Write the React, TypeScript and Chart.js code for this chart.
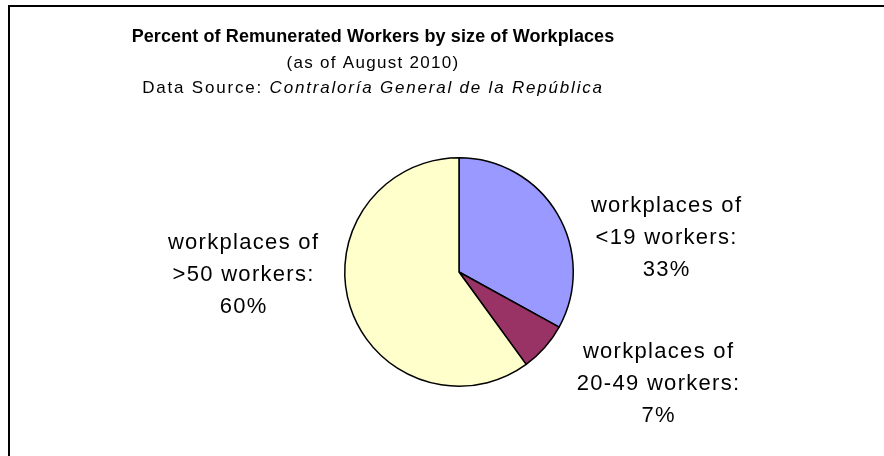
import React, { useEffect, useRef } from "react";
import { Chart, registerables } from "chart.js";

Chart.register(...registerables);

const categories = [
  "workplaces of <19 workers",
  "workplaces of 20-49 workers",
  "workplaces of >50 workers",
];
const labelLines = [
  ["workplaces of", "<19 workers:"],
  ["workplaces of", "20-49 workers:"],
  ["workplaces of", ">50 workers:"],
];
const values = [33, 7, 60];
const colors = ["#9999FF", "#993366", "#FFFFCC"];
const titleText = "Percent of Remunerated Workers by size of Workplaces";
const subtitleText = "(as of August 2010)";
const sourcePrefix = "Data Source: ";
const sourceName = "Contraloría General de la República";

const FONT = '"Liberation Sans", Arial, sans-serif';

const textPlugin = {
  id: "textPlugin",
  afterDraw(chart: any) {
    const ctx = chart.ctx as CanvasRenderingContext2D;
    ctx.save();
    ctx.fillStyle = "#000";
    ctx.textBaseline = "middle";
    ctx.textAlign = "left";
    const cx = 373;
    // title
    ctx.font = `bold 18px ${FONT}`;
    (ctx as any).letterSpacing = "0.1px";
    let w = ctx.measureText(titleText).width;
    ctx.fillText(titleText, cx - w / 2, 37);
    // subtitle
    ctx.font = `17px ${FONT}`;
    (ctx as any).letterSpacing = "1.3px";
    w = ctx.measureText(subtitleText).width;
    ctx.fillText(subtitleText, cx - w / 2, 63);
    // source
    (ctx as any).letterSpacing = "1.8px";
    ctx.font = `17px ${FONT}`;
    const w1 = ctx.measureText(sourcePrefix).width;
    ctx.font = `italic 17px ${FONT}`;
    const w2 = ctx.measureText(sourceName).width;
    const sx = cx - (w1 + w2) / 2;
    ctx.font = `17px ${FONT}`;
    ctx.fillText(sourcePrefix, sx, 88);
    ctx.font = `italic 17px ${FONT}`;
    ctx.fillText(sourceName, sx + w1, 88);

    // slice labels
    const meta = chart.getDatasetMeta(0);
    const arc0 = meta.data[0];
    const pcx = arc0.x;
    const pcy = arc0.y;
    const offsets = [
      [207, -34],
      [199, 112],
      [-216, 3],
    ];
    ctx.font = `22px ${FONT}`;
    (ctx as any).letterSpacing = "1.3px";
    ctx.textAlign = "center";
    const ds = chart.data.datasets[0].data as number[];
    const total = ds.reduce((a, b) => a + b, 0);
    meta.data.forEach((_el: any, i: number) => {
      const lines = [...labelLines[i], `${Math.round((ds[i] / total) * 100)}%`];
      const x = pcx + offsets[i][0];
      const y = pcy + offsets[i][1];
      lines.forEach((ln, j) => {
        ctx.fillText(ln, x + 0.6, y + (j - 1) * 32);
      });
    });
    ctx.restore();
  },
};

export default function App() {
  const ref = useRef<HTMLCanvasElement>(null);
  useEffect(() => {
    if (!ref.current) return;
    const chart = new Chart(ref.current, {
      type: "pie",
      data: {
        labels: categories,
        datasets: [
          {
            data: values,
            backgroundColor: colors,
            borderColor: "#000",
            borderWidth: 1.5,
            borderAlign: "center",
          },
        ],
      },
      options: {
        responsive: false,
        animation: false,
        layout: { padding: { left: 344, right: 310, top: 157, bottom: 69 } },
        plugins: {
          legend: { display: false },
          title: { display: false },
          tooltip: { enabled: false },
        },
      },
      plugins: [textPlugin],
    });
    return () => chart.destroy();
  }, []);
  return (
    <>
      <div
        style={{
          position: "fixed",
          left: 8,
          top: 5,
          right: 0,
          bottom: 0,
          borderTop: "2px solid #000",
          borderLeft: "2px solid #000",
          background: "#fff",
        }}
      />
      <canvas
        ref={ref}
        width={884}
        height={456}
        style={{ position: "fixed", left: 0, top: 0, width: 884, height: 456 }}
      />
    </>
  );
}
